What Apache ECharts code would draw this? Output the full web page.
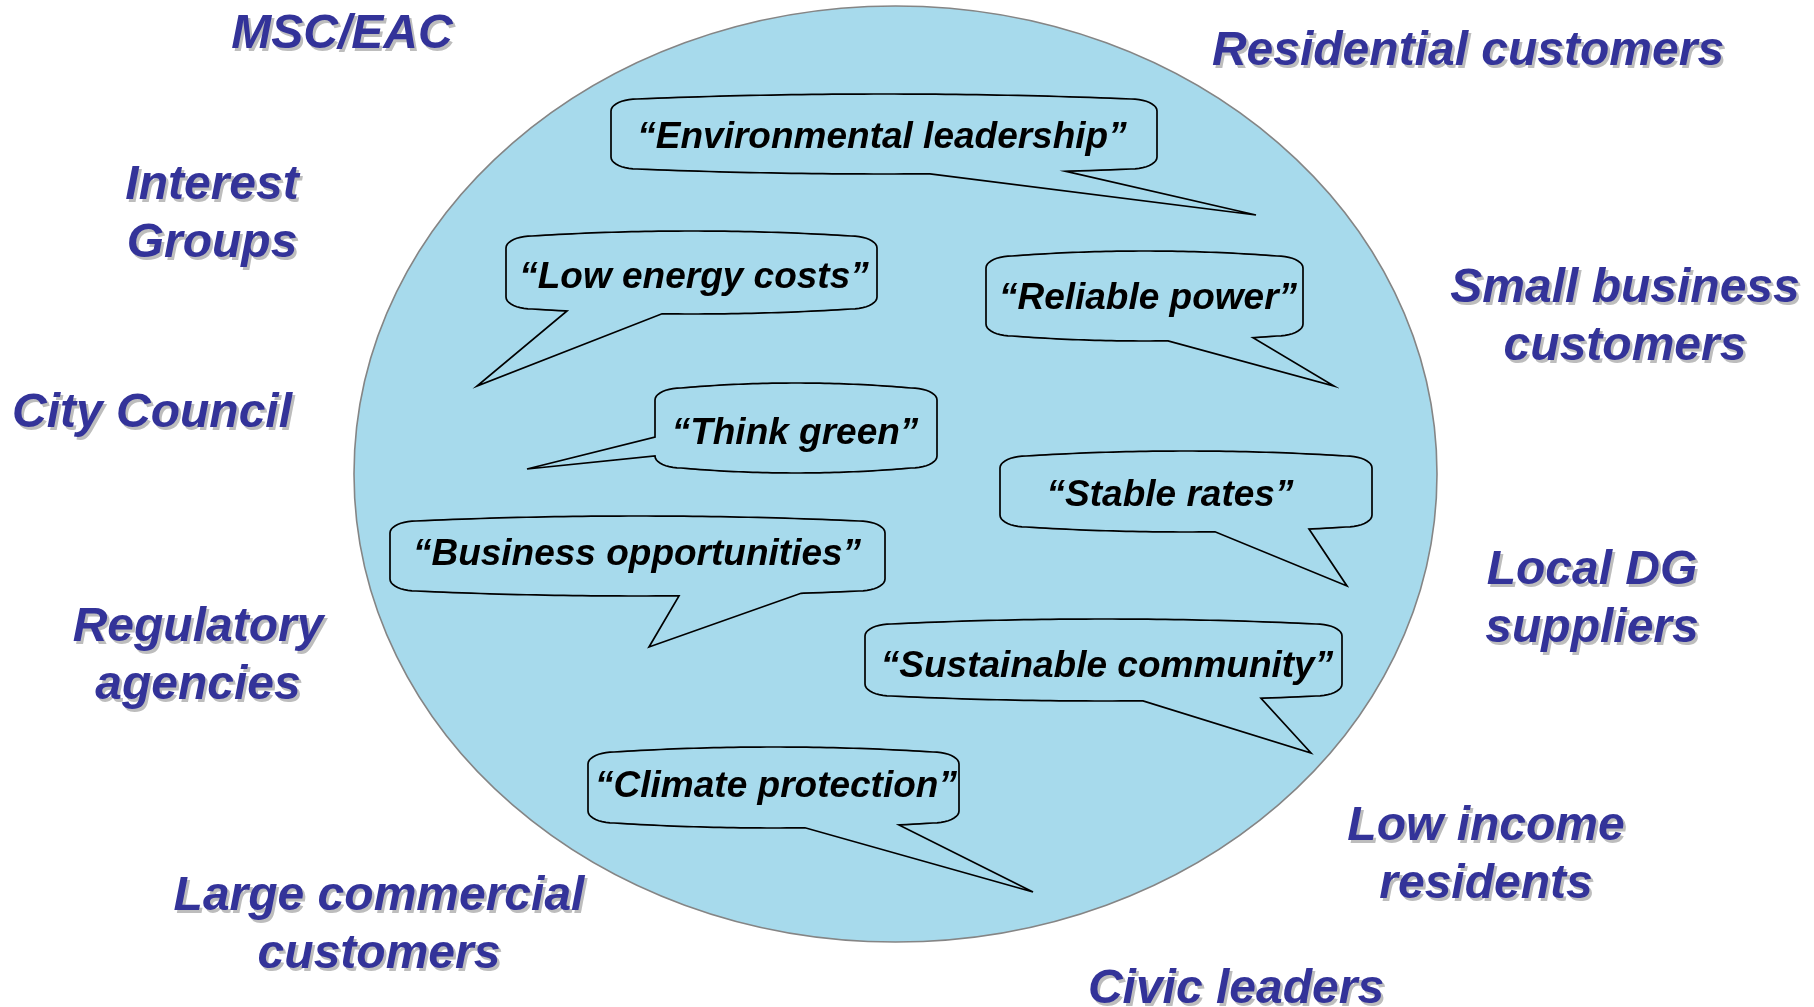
<!DOCTYPE html>
<html>
<head>
<meta charset="utf-8">
<script src="https://cdn.jsdelivr.net/npm/echarts@6/dist/echarts.min.js"></script>
<style>
html,body{margin:0;padding:0;background:#ffffff;}
#chart{width:1814px;height:1007px;}
</style>
</head>
<body>
<div id="chart"></div>
<script>
// ---- data (in picture units: x to the right, y downward) ----
const canvasW = 1814;
const canvasH = 1007;

const circleCenter = [895.5, 474];
const circleRadii = [541.5, 468];

const stakeholderLabels = [
  'MSC/EAC', 'Residential customers', 'Interest\nGroups', 'Small business\ncustomers',
  'City Council', 'Local DG\nsuppliers', 'Regulatory\nagencies', 'Low income\nresidents',
  'Large commercial\ncustomers', 'Civic leaders'
];
const stakeholderX = [342, 1468, 212, 1625, 152, 1592, 198, 1486, 379, 1236];
const stakeholderY = [35, 52, 215, 318, 414, 600, 657, 856, 926, 990];

const quoteTexts = [
  '\u201CEnvironmental leadership\u201D', '\u201CLow energy costs\u201D', '\u201CReliable power\u201D',
  '\u201CThink green\u201D', '\u201CStable rates\u201D', '\u201CBusiness opportunities\u201D',
  '\u201CSustainable community\u201D', '\u201CClimate protection\u201D'
];
const quoteX = [882, 694, 1148, 795, 1170, 637, 1107, 776];
const quoteY = [138, 278, 299, 434, 496, 555, 667, 787];

const boxLeft   = [611, 506, 986, 655, 1000, 390, 865, 588];
const boxRight  = [1157, 877, 1303, 937, 1372, 885, 1342, 959];
const boxTop    = [94, 231, 251, 383, 451, 516, 619, 747];
const boxBottom = [174, 314, 341, 473, 532, 596, 701, 828];

const tailSide  = ['bottom', 'bottom', 'bottom', 'left', 'bottom', 'bottom', 'bottom', 'bottom'];
const tailBaseA = [930, 567, 1168, 437, 1215, 679, 1143, 805];
const tailBaseB = [1066, 662, 1253, 458, 1309, 801, 1261, 899];
const tailTipX  = [1256, 477, 1334, 527, 1347, 649, 1311, 1033];
const tailTipY  = [215, 386, 386, 469, 586, 647, 753, 892];

// ---- drawing ----
const BLUE_FILL = '#A7DAEC';

function bubbleOutline(X0, X1, Y0, Y1, side, a, b, tip) {
  const rx = 26, ry = 12, bulge = 5, N = 48;
  const pts = [];
  const xm = (X0 + X1) / 2, hw = (X1 - X0) / 2 - rx;
  const topY = x => Y0 + bulge * Math.pow((x - xm) / hw, 2);
  const botY = x => Y1 - bulge * Math.pow((x - xm) / hw, 2);
  const corner = (cx, cy, a0, a1) => {
    for (let i = 0; i <= 10; i++) {
      const t = (a0 + (a1 - a0) * i / 10) * Math.PI / 180;
      pts.push([cx + rx * Math.cos(t), cy + ry * Math.sin(t)]);
    }
  };
  for (let i = 0; i <= N; i++) {
    const x = X0 + rx + (X1 - X0 - 2 * rx) * i / N;
    pts.push([x, topY(x)]);
  }
  corner(X1 - rx, Y0 + bulge + ry, -90, 0);
  corner(X1 - rx, Y1 - bulge - ry, 0, 90);
  let inserted = false;
  const lo = X0 + rx, hi = X1 - rx;
  const ba = Math.max(lo, Math.min(hi, a)), bb = Math.max(lo, Math.min(hi, b));
  for (let i = 0; i <= N; i++) {
    const x = X1 - rx - (X1 - X0 - 2 * rx) * i / N;
    if (side === 'bottom') {
      if (x > bb) { pts.push([x, botY(x)]); }
      else if (x < ba) {
        if (!inserted) { pts.push([bb, botY(bb)], tip, [ba, botY(ba)]); inserted = true; }
        pts.push([x, botY(x)]);
      }
    } else {
      pts.push([x, botY(x)]);
    }
  }
  corner(X0 + rx, Y1 - bulge - ry, 90, 180);
  if (side === 'left') {
    const ylo = Y0 + bulge + ry, yhi = Y1 - bulge - ry;
    const ya = Math.max(ylo, Math.min(yhi, a)), yb = Math.max(ylo, Math.min(yhi, b));
    pts.push([X0, yb], tip, [X0, ya]);
  }
  corner(X0 + rx, Y0 + bulge + ry, 180, 270);
  return pts;
}

const chart = echarts.init(document.getElementById('chart'), null, {renderer: 'canvas'});

const option = {
  animation: false,
  backgroundColor: '#ffffff',
  grid: {left: 0, right: 0, top: 0, bottom: 0},
  xAxis: {type: 'value', min: 0, max: canvasW, show: false},
  yAxis: {type: 'value', min: 0, max: canvasH, inverse: true, show: false},
  series: [
    {
      type: 'custom',
      silent: true,
      clip: false,
      z: 1,
      data: [[circleCenter[0], circleCenter[1], circleRadii[0], circleRadii[1]]],
      renderItem: function (params, api) {
        const c = api.coord([api.value(0), api.value(1)]);
        const s = api.size([api.value(2), api.value(3)]);
        return {
          type: 'ellipse',
          shape: {cx: c[0], cy: c[1], rx: Math.abs(s[0]), ry: Math.abs(s[1])},
          style: {fill: BLUE_FILL, stroke: '#858585', lineWidth: 1.6}
        };
      }
    },
    {
      type: 'custom',
      silent: true,
      clip: false,
      z: 2,
      data: quoteTexts.map((t, i) => [quoteX[i], quoteY[i]]),
      renderItem: function (params, api) {
        const i = params.dataIndex;
        const p0 = api.coord([boxLeft[i], boxTop[i]]);
        const p1 = api.coord([boxRight[i], boxBottom[i]]);
        const tip = api.coord([tailTipX[i], tailTipY[i]]);
        let a, b;
        if (tailSide[i] === 'bottom') {
          a = api.coord([tailBaseA[i], 0])[0];
          b = api.coord([tailBaseB[i], 0])[0];
        } else {
          a = api.coord([0, tailBaseA[i]])[1];
          b = api.coord([0, tailBaseB[i]])[1];
        }
        const pts = bubbleOutline(p0[0], p1[0], p0[1], p1[1], tailSide[i], a, b, tip);
        const tc = api.coord([api.value(0), api.value(1)]);
        return {
          type: 'group',
          children: [
            {
              type: 'polygon',
              shape: {points: pts},
              style: {fill: BLUE_FILL, stroke: '#000000', lineWidth: 1.7, lineJoin: 'miter'}
            },
            {
              type: 'text',
              style: {
                text: quoteTexts[i],
                x: tc[0], y: tc[1],
                align: 'center', verticalAlign: 'middle',
                fill: '#000000',
                font: 'italic bold 37px "Liberation Sans", Arial, sans-serif'
              }
            }
          ]
        };
      }
    },
    {
      type: 'custom',
      silent: true,
      clip: false,
      z: 3,
      data: stakeholderLabels.map((n, i) => [stakeholderX[i], stakeholderY[i]]),
      renderItem: function (params, api) {
        const i = params.dataIndex;
        const c = api.coord([api.value(0), api.value(1)]);
        const base = {
          text: stakeholderLabels[i],
          align: 'center', verticalAlign: 'middle',
          lineHeight: 58,
          font: 'italic bold 48px "Liberation Sans", Arial, sans-serif'
        };
        return {
          type: 'group',
          children: [
            {type: 'text', style: Object.assign({}, base, {x: c[0] + 2.5, y: c[1] + 2.5, fill: '#bdbdbd'})},
            {type: 'text', style: Object.assign({}, base, {x: c[0], y: c[1], fill: '#333399'})}
          ]
        };
      }
    }
  ]
};
chart.setOption(option);
</script>
</body>
</html>
